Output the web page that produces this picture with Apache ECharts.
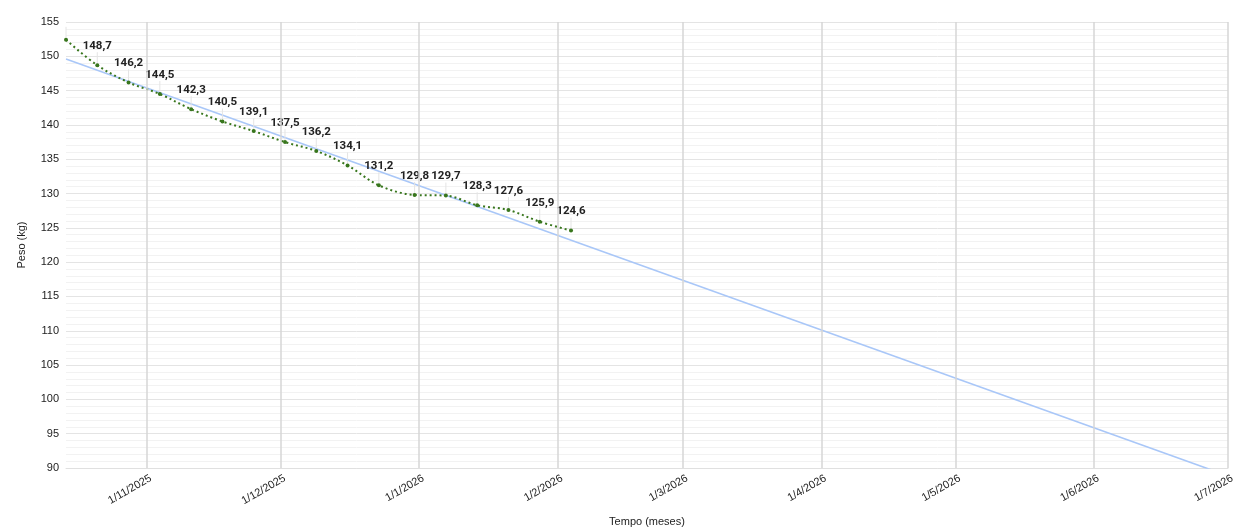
<!DOCTYPE html>
<html>
<head>
<meta charset="utf-8">
<script src="https://cdn.jsdelivr.net/npm/echarts@6/dist/echarts.min.js"></script>
<style>
html,body{margin:0;padding:0;background:#fff;}
#chart{width:1250px;height:527px;}
</style>
</head>
<body>
<div id="chart"></div>
<script>
// Weekly weigh-ins
const dates = ['2025-10-14','2025-10-21','2025-10-28','2025-11-04','2025-11-11','2025-11-18','2025-11-25','2025-12-02','2025-12-09','2025-12-16','2025-12-23','2025-12-31','2026-01-07','2026-01-14','2026-01-21','2026-01-28','2026-02-04'];
const weights = [152.4,148.7,146.2,144.5,142.3,140.5,139.1,137.5,136.2,134.1,131.2,129.8,129.7,128.3,127.6,125.9,124.6];
// Trendline endpoints
const trendDates = ['2025-10-14','2026-07-01'];
const trendValues = [149.6, 88.85];
// Month tick positions on the x axis
const monthTicks = ['2025-11-01','2025-12-01','2026-01-01','2026-02-01','2026-03-01','2026-04-01','2026-05-01','2026-06-01','2026-07-01'];
const xMin = '2025-10-14';
const xMax = '2026-07-01';
const yTicks = [90,95,100,105,110,115,120,125,130,135,140,145,150,155];

function ts(s){ const p = s.split('-').map(Number); return Date.UTC(p[0], p[1]-1, p[2]); }
function fmtDate(v){ const d = new Date(v); return d.getUTCDate() + '/' + (d.getUTCMonth()+1) + '/' + d.getUTCFullYear(); }

const chart = echarts.init(document.getElementById('chart'), null, {renderer:'canvas'});
const tickVals = monthTicks.map(ts);

chart.setOption({
  animation:false,
  backgroundColor:'#ffffff',
  grid:{left:66, right:22, top:22, bottom:59, containLabel:false, outerBoundsMode:'none'},
  xAxis:{
    type:'value',
    min:ts(xMin), max:ts(xMax),
    name:'Tempo (meses)', nameLocation:'middle', nameGap:48,
    nameTextStyle:{fontFamily:'Liberation Sans, Arial, sans-serif', fontSize:11, color:'#222'},
    axisLine:{show:true, lineStyle:{color:'#e0e0e0', width:1}},
    axisTick:{show:false},
    axisLabel:{customValues:tickVals, formatter:v => fmtDate(v), rotate:30, margin:12,
      padding:[0,-5,0,0],
      showMinLabel:true, showMaxLabel:true,
      fontFamily:'Liberation Sans, Arial, sans-serif', fontSize:11, color:'#222'},
    splitLine:{show:false},
    minorSplitLine:{show:false}
  },
  yAxis:{
    type:'value', min:yTicks[0], max:yTicks[yTicks.length-1], interval:5,
    name:'Peso (kg)', nameLocation:'middle', nameGap:39, nameRotate:90,
    nameTextStyle:{fontFamily:'Liberation Sans, Arial, sans-serif', fontSize:11, color:'#222'},
    axisLine:{show:false}, axisTick:{show:false},
    axisLabel:{margin:7, fontFamily:'Liberation Sans, Arial, sans-serif', fontSize:11, color:'#222'},
    splitLine:{show:true, lineStyle:{color:'#e4e4e4', width:1}},
    minorTick:{show:false, splitNumber:5},
    minorSplitLine:{show:true, lineStyle:{color:'#f2f2f2', width:1}}
  },
  series:[
    {
      name:'Tendência', type:'line', clip:true, showSymbol:false, silent:true,
      data: trendDates.map((d,i)=>[ts(d), trendValues[i]]),
      lineStyle:{color:'#a9c7f8', width:1.6}, z:2,
      markLine:{silent:true, symbol:'none', label:{show:false},
        lineStyle:{color:'#d6d6d6', width:1.5, type:'solid'},
        data: tickVals.map(v => ({xAxis:v}))}
    },
    {
      name:'Peso', type:'line', smooth:0.35, z:3,
      data: dates.map((d,i)=>[ts(d), weights[i]]),
      symbol:'circle', symbolSize:4,
      itemStyle:{color:'#38761d'},
      lineStyle:{color:'#38761d', width:2, type:[2,3]},
      label:{show:true, position:'top', distance:4,
        formatter:p => p.dataIndex === 0 ? '' : p.value[1].toFixed(1).replace('.', ','),
        fontFamily:'Roboto, sans-serif', fontWeight:'bold', fontSize:11.5, color:'#222'},
      labelLayout:{dy:-7},
      labelLine:{show:true, lineStyle:{color:'#e4e4e4', width:1}}
    }
  ]
});
</script>
</body>
</html>
